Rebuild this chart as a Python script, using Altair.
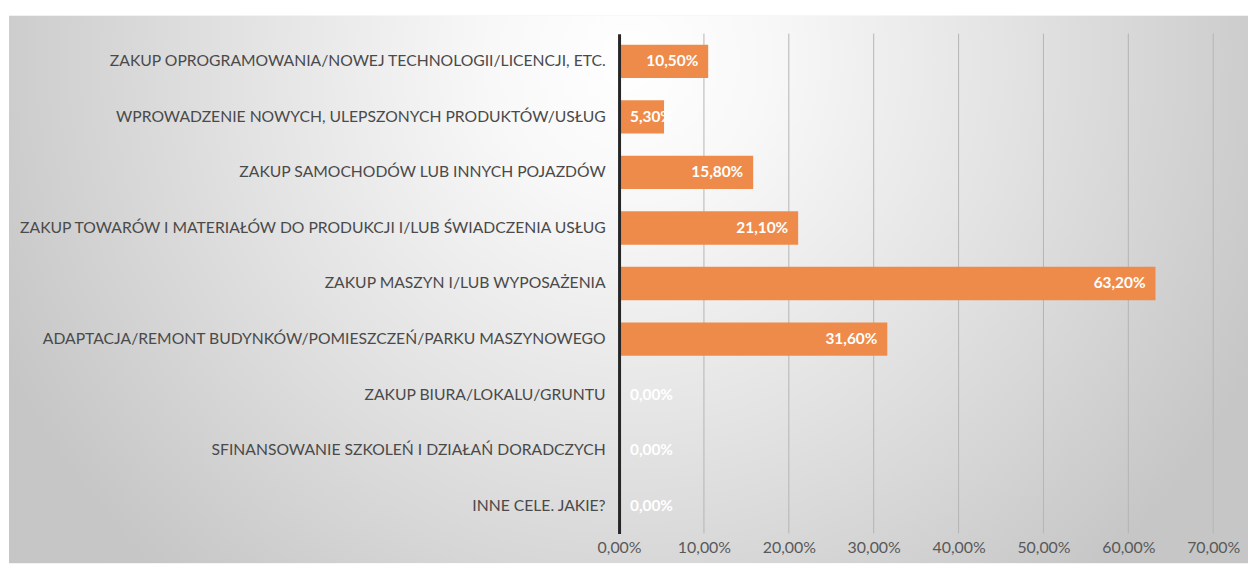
import altair as alt
import pandas as pd

categories = [
    "ZAKUP OPROGRAMOWANIA/NOWEJ TECHNOLOGII/LICENCJI, ETC.",
    "WPROWADZENIE NOWYCH, ULEPSZONYCH PRODUKTÓW/USŁUG",
    "ZAKUP SAMOCHODÓW LUB INNYCH POJAZDÓW",
    "ZAKUP TOWARÓW I MATERIAŁÓW DO PRODUKCJI I/LUB ŚWIADCZENIA USŁUG",
    "ZAKUP MASZYN I/LUB WYPOSAŻENIA",
    "ADAPTACJA/REMONT BUDYNKÓW/POMIESZCZEŃ/PARKU MASZYNOWEGO",
    "ZAKUP BIURA/LOKALU/GRUNTU",
    "SFINANSOWANIE SZKOLEŃ I DZIAŁAŃ DORADCZYCH",
    "INNE CELE. JAKIE?",
]
values = [10.5, 5.3, 15.8, 21.1, 63.2, 31.6, 0.0, 0.0, 0.0]
x_ticks = [0, 10, 20, 30, 40, 50, 60, 70]
grid_ticks = [10, 20, 30, 40, 50, 60, 70]

df = pd.DataFrame({"cat": categories, "val": values})
df["lab"] = [f"{v:.2f}".replace(".", ",") + "%" for v in values]
grid_df = pd.DataFrame({"g": grid_ticks})
bg_df = pd.DataFrame({"a": [0]})

W, H = 598, 503
PADL, PADT = 615, 24
FONT = "Lato"
ORANGE = "#ee8b4a"

xscale = alt.Scale(domain=[0, 70], nice=False, zero=True)
yscale = alt.Scale(paddingInner=0.4, paddingOuter=0.2)

gradient = {
    "gradient": "radial",
    "x1": 0.5, "y1": 0.315, "r1": 0,
    "x2": 0.5, "y2": 0.315, "r2": 0.56,
    "stops": [
        {"offset": 0.0, "color": "#ffffff"},
        {"offset": 0.2, "color": "#f8f8f8"},
        {"offset": 0.55, "color": "#e3e3e3"},
        {"offset": 1.0, "color": "#c6c6c6"},
    ],
}

x_axis = alt.Axis(
    values=x_ticks,
    labelExpr="replace(format(datum.value, '.2f'), '.', ',') + '%'",
    grid=False, domain=False, ticks=False, labelFlush=False, labelOverlap=False,
    labelFont=FONT, labelFontSize=16, labelColor="#595959",
    labelPadding=6, title=None, zindex=1,
)
y_axis = alt.Axis(
    title=None, ticks=False, domain=True, domainColor="#262626", domainWidth=3,
    labelFont=FONT, labelFontSize=15.8, labelColor="#4a4a4a", labelPadding=14,
    labelLimit=700, zindex=1,
)

bg = alt.Chart(bg_df).mark_rect(fill=gradient, stroke=None).encode(
    x=alt.value(9 - 8 - PADL), x2=alt.value(1256 - 8 - PADL),
    y=alt.value(14 - 8 - PADT), y2=alt.value(565 - 8 - PADT),
)

grid = alt.Chart(grid_df).mark_rule(color="#b4b4b4", strokeWidth=1).encode(
    x=alt.X("g:Q", scale=xscale, axis=x_axis)
)

bars = alt.Chart(df).mark_bar(color=ORANGE).encode(
    x=alt.X("val:Q", scale=xscale, axis=x_axis),
    y=alt.Y("cat:N", sort=categories, scale=yscale, axis=y_axis),
)

lab_long = alt.Chart(df).transform_filter("datum.val >= 8").mark_text(
    align="right", baseline="middle", dx=-10, color="#ffffff",
    font=FONT, fontSize=15.5, fontWeight="bold"
).encode(
    x=alt.X("val:Q", scale=xscale, axis=x_axis),
    y=alt.Y("cat:N", sort=categories, scale=yscale, axis=y_axis),
    text="lab:N",
)

lab_short = alt.Chart(df).transform_filter("datum.val < 8").mark_text(
    align="left", baseline="middle", dx=11, color="#ffffff",
    font=FONT, fontSize=15.5, fontWeight="bold"
).encode(
    x=alt.value(0),
    y=alt.Y("cat:N", sort=categories, scale=yscale, axis=y_axis),
    text="lab:N",
)

chart = alt.layer(bg, grid, bars, lab_long, lab_short).properties(
    width=W, height=H,
    autosize=alt.AutoSizeParams(type="none"),
    padding={"left": PADL, "top": PADT, "right": 1248 - PADL - W, "bottom": 557 - PADT - H},
    background="#ffffff",
).configure_view(stroke=None)

chart.save("out.html", embed_options={"renderer": "svg", "actions": False})
